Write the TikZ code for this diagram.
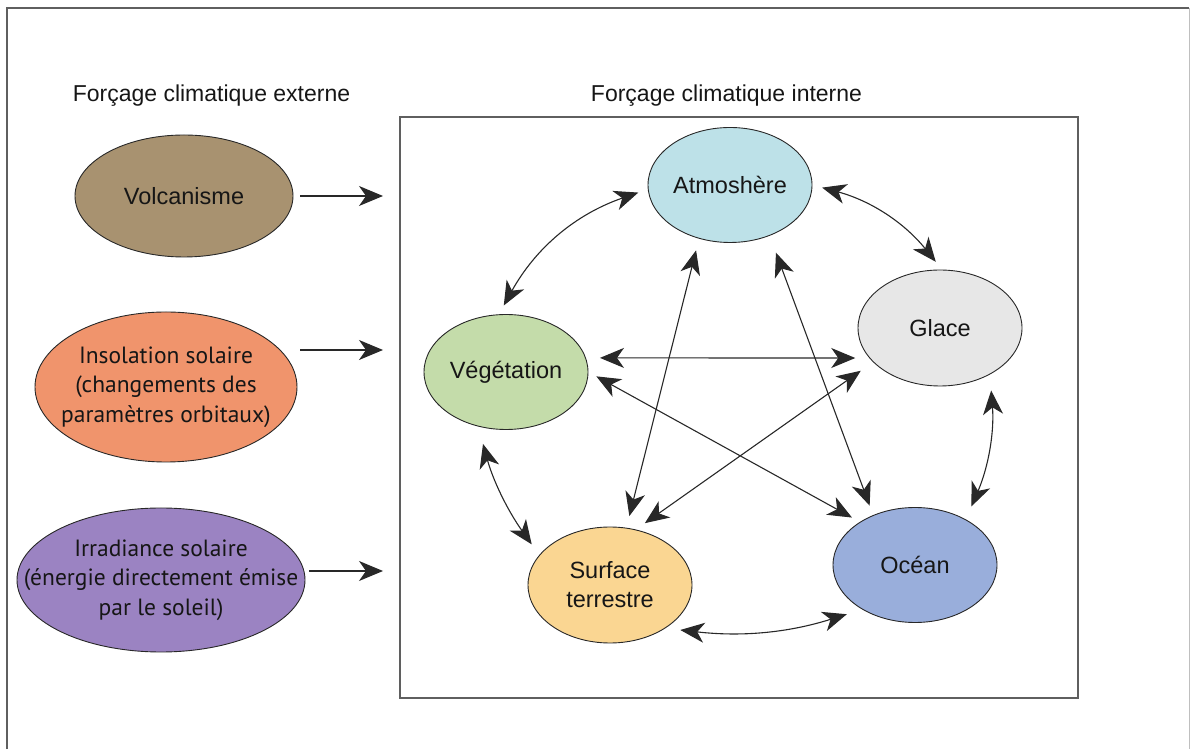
\documentclass[tikz,border=0pt]{standalone}
\usepackage{fontspec}
\setmainfont{Liberation Sans}
\newfontfamily\humfont{PT Sans}
\usetikzlibrary{shapes.geometric,arrows.meta,calc}
\definecolor{cVolc}{RGB}{168,146,112}
\definecolor{cInso}{RGB}{240,148,108}
\definecolor{cIrr}{RGB}{155,131,194}
\definecolor{cAtm}{RGB}{189,225,232}
\definecolor{cVeg}{RGB}{196,220,170}
\definecolor{cGla}{RGB}{231,231,231}
\definecolor{cSur}{RGB}{250,214,146}
\definecolor{cOce}{RGB}{153,174,219}
\definecolor{txtC}{RGB}{22,22,22}
\definecolor{lineC}{RGB}{40,40,40}
\definecolor{frameC}{RGB}{95,95,95}
\begin{document}
\begin{tikzpicture}[x=1pt,y=1pt,
  blob/.style={ellipse, draw=lineC, line width=0.9pt, inner sep=0pt},
  inner/.style={blob, minimum width=164pt, minimum height=115pt},
  sansfont/.style={font=\fontsize{23.5}{29}\selectfont, text=txtC, align=center},
  humlab/.style={font=\humfont\fontsize{23.5}{29.5}\selectfont, text=txtC, align=center},
  title/.style={font=\fontsize{23}{28}\selectfont, text=txtC},
  tipS/.tip={Stealth[length=24pt,width=20pt,inset=7pt]},
  link/.style={draw=lineC, line width=1.1pt, arrows={tipS-tipS}},
  ext/.style={draw=lineC, line width=1.1pt, arrows={-tipS}}
]
\useasboundingbox (0,0) rectangle (1190,749);
% outer frame
\draw[frameC, line width=1.4pt] (7,0) -- (7,741) -- (1189,741);
\draw[black!25, line width=1pt] (1189,741) -- (1189,0);
% inner box
\draw[frameC, line width=1.2pt] (400,51) rectangle (1078,632);

% titles
\node[title] (tExt) at (211.5,653) {Forçage climatique externe};
\node[title] (tInt) at (726.5,653) {Forçage climatique interne};

% external forcings
\node[blob, fill=cVolc, minimum width=218pt, minimum height=122pt,
  label={[sansfont]center:Volcanisme}] (volc) at (184,553) {};
\node[blob, fill=cInso, minimum width=262pt, minimum height=150pt,
  label={[humlab]center:Insolation solaire\\(changements des\\paramètres orbitaux)}] (inso) at (166,362) {};
\node[blob, fill=cIrr, minimum width=288pt, minimum height=144pt,
  label={[humlab]center:Irradiance solaire\\(énergie directement émise\\par le soleil)}] (irr) at (161,169) {};

% internal components
\node[inner, fill=cAtm, label={[sansfont]center:Atmoshère}] (atm) at (730,564) {};
\node[inner, fill=cVeg, label={[sansfont]center:Végétation}] (veg) at (506,377) {};
\node[inner, fill=cGla, minimum height=116pt, label={[sansfont]center:Glace}] (gla) at (940,421) {};
\node[inner, fill=cSur, minimum height=116pt, label={[sansfont]center:Surface\\terrestre}] (sur) at (610,164) {};
\node[inner, fill=cOce, label={[sansfont]center:Océan}] (oce) at (915,184) {};

% arrows into the box
\coordinate (in1) at (383,553);
\coordinate (in2) at (383,399);
\coordinate (in3) at (383,178);
\draw[ext, shorten <=7pt] (volc.east) -- (in1);
\draw[ext, shorten <=3pt] (inso.east |- in2) -- (in2);
\draw[ext, shorten <=4pt] (irr.east |- in3) -- (in3);

% curved links around the cycle
\draw[link, shorten <=10pt, shorten >=10pt] (veg.97) to[bend left=21] (atm.183);
\draw[link, shorten <=10pt, shorten >=10pt] (atm.0) to[bend left=18] (gla.88);
\draw[link, shorten <=16pt, shorten >=14pt] (gla.-43) to[bend left=14] (oce.42);
\draw[link, shorten <=15pt, shorten >=16pt] (sur.-38) to[bend right=12] (oce.220);
\draw[link, shorten <=18pt, shorten >=13pt] (veg.243) to[bend right=10] (sur.157);

% straight links (star)
\draw[link, shorten <=12pt, shorten >=12pt] (atm.-120) -- (sur.74);
\draw[link, shorten <=18pt, shorten >=10pt] (atm.-52) -- (oce.130);
\draw[link, shorten <=14pt, shorten >=14pt] (veg.10) -- (gla.203);
\draw[link, shorten <=9pt, shorten >=9pt] (veg.0) -- (oce.142);
\draw[link, shorten <=15pt, shorten >=11pt] (gla.207) -- (sur.65);
\end{tikzpicture}
\end{document}
